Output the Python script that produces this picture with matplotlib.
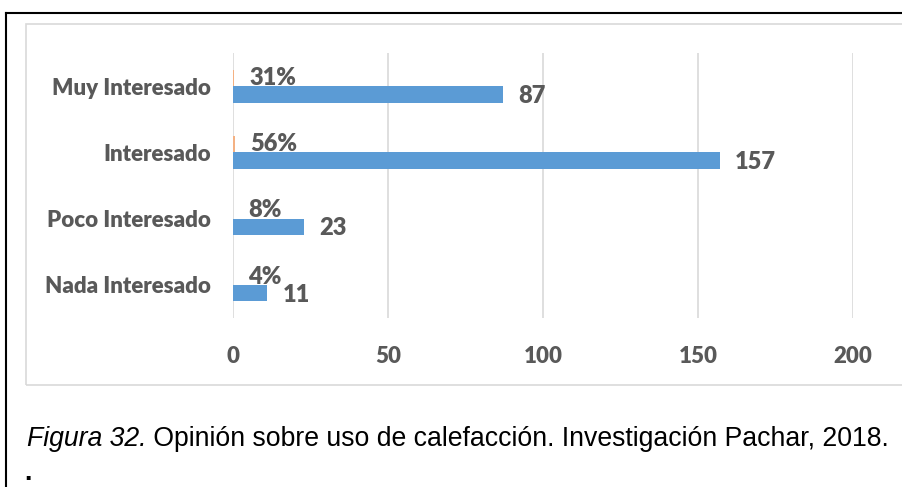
import numpy as np
import matplotlib.pyplot as plt
from matplotlib.patches import Rectangle
from matplotlib.lines import Line2D

categories = ['Muy Interesado', 'Interesado', 'Poco Interesado', 'Nada Interesado']
counts = [87, 157, 23, 11]
shares = [0.31, 0.56, 0.08, 0.04]
share_labels = ['31%', '56%', '8%', '4%']
xticks = [0, 50, 100, 150, 200]

W, H = 902, 487
gray_txt = '#595959'
blue = '#5B9BD5'
orange = '#F4B183'

fig = plt.figure(figsize=(W / 100, H / 100), dpi=100)

# outer document frame and chart frame
fig.add_artist(Line2D([6 / W, 1.0], [1 - 13 / H, 1 - 13 / H], color='black', lw=1.5))
fig.add_artist(Line2D([6 / W, 6 / W], [0, 1 - 13 / H], color='black', lw=1.5))
fig.add_artist(Rectangle((26 / W, 1 - 385 / H), 1.0, (385 - 24) / H,
                         fill=False, edgecolor='#D9D9D9', lw=1.2))

ax = fig.add_axes([233 / W, 1 - 318 / H, (853 - 233) / W, (318 - 53) / H])

y = np.arange(len(categories))
h = 0.25
ax.barh(y - h / 2, shares, height=h, color=orange)
ax.barh(y + h / 2, counts, height=h, color=blue)

lab_font = dict(family=['Lato', 'DejaVu Sans'], weight='heavy', color=gray_txt)
for i in range(len(categories)):
    ax.annotate(share_labels[i], (shares[i], y[i] - h / 2), xytext=(11, 0),
                textcoords='offset points', ha='left', va='center', fontsize=17, **lab_font)
    ax.annotate(str(counts[i]), (counts[i], y[i] + h / 2), xytext=(11, -1),
                textcoords='offset points', ha='left', va='center', fontsize=17, **lab_font)

ax.set_xlim(0, 200)
ax.set_ylim(len(categories) - 0.5, -0.5)
ax.set_xticks(xticks)
ax.set_yticks(y)
ax.set_yticklabels(categories)
ax.grid(axis='x', color='#D9D9D9', lw=1.2)
ax.set_axisbelow(True)
for s in ax.spines.values():
    s.set_visible(False)
ax.tick_params(length=0)
ax.tick_params(axis='x', pad=20)
ax.tick_params(axis='y', pad=16)
for t in ax.get_xticklabels() + ax.get_yticklabels():
    t.set_family(['Lato', 'DejaVu Sans'])
    t.set_weight('heavy')
    t.set_color(gray_txt)
for t in ax.get_xticklabels():
    t.set_fontsize(16)
for t in ax.get_yticklabels():
    t.set_fontsize(16)

# caption: italic part, then the rest right after it
cap_base = 1 - 446 / H
cap_size = 19.2
t1 = fig.text(27 / W, cap_base, 'Figura 32.', fontsize=cap_size, style='italic',
              family='Liberation Sans', va='baseline', color='black')
fig.canvas.draw()
bb = t1.get_window_extent(renderer=fig.canvas.get_renderer())
fig.text(bb.x1 / W, cap_base, ' Opinión sobre uso de calefacción. Investigación Pachar, 2018.',
         fontsize=cap_size, family='Liberation Sans', va='baseline', color='black')
fig.text(24 / W, 1 - 480 / H, '.', fontsize=cap_size, family='Liberation Sans',
         va='baseline', color='black', weight='bold')

fig.savefig('out.png', dpi=100)
